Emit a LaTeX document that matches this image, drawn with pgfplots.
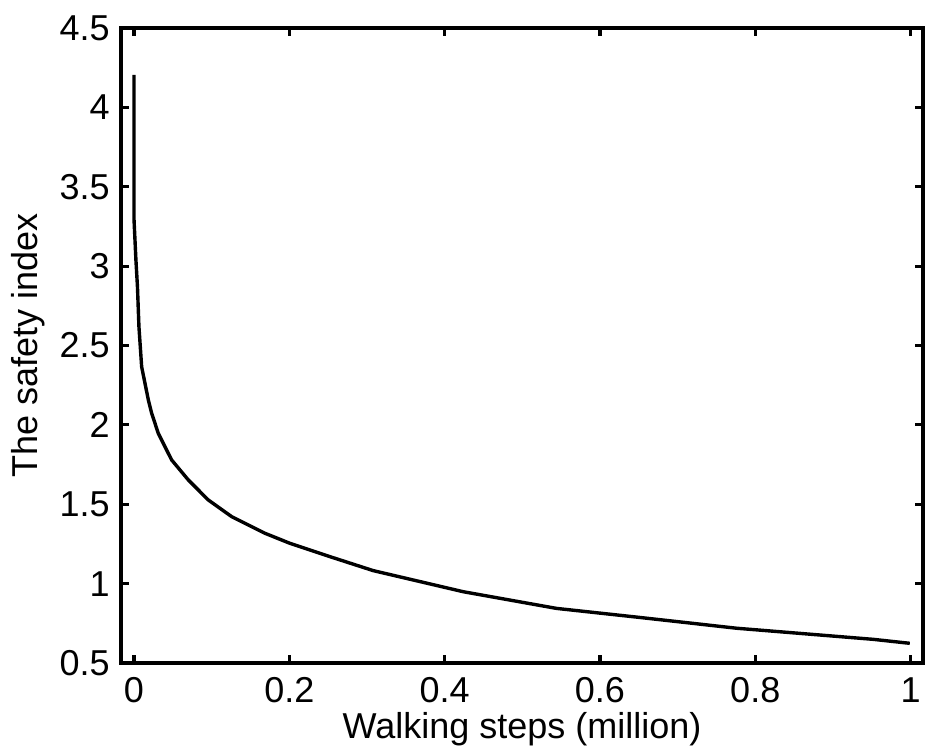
\documentclass[border=0pt]{standalone}
\usepackage{fontspec}
\setmainfont{Liberation Sans}
\usepackage{pgfplots}
\pgfplotsset{compat=1.18}
\begin{document}
\begin{tikzpicture}
\begin{axis}[
  name=ax,
  scale only axis,
  width=401pt, height=317.5pt,
  xmin=-0.0167, xmax=1.016,
  ymin=0.5, ymax=4.5,
  xtick={0,0.2,0.4,0.6,0.8,1},
  ytick={0.5,1,1.5,2,2.5,3,3.5,4,4.5},
  tick align=inside,
  major tick length=4pt,
  axis line style={line width=1.6pt},
  every tick/.style={black, line width=1.6pt},
  tick label style={font=\fontsize{18}{21}\selectfont, inner sep=0pt},
  label style={font=\fontsize{18}{21}\selectfont, inner sep=0pt},
  /pgf/number format/assume math mode=true,
  xlabel={Walking steps (million)},
  ylabel={The safety index},
  xticklabel style={anchor=base, yshift=-19.85pt},
  yticklabel style={anchor=east, xshift=-5.5pt},
  xlabel style={at={(axis description cs:0.5,0)}, anchor=base, yshift=-37.5pt},
  ylabel style={at={(axis description cs:-0.1047,0.5)}, anchor=base, rotate=0},
]
\addplot[black, line width=1.7pt, line join=round] table {
x y
0 4.204
0 3.30
0.0025 3.04
0.0045 2.87
0.0064 2.618
0.0099 2.366
0.0185 2.157
0.0228 2.073
0.0313 1.947
0.0485 1.779
0.0700 1.653
0.0957 1.527
0.1258 1.422
0.1687 1.317
0.2008 1.254
0.2523 1.170
0.3080 1.082
0.424 0.949
0.544 0.844
0.655 0.785
0.776 0.719
0.952 0.649
0.999 0.624
};
\end{axis}
\path (ax.south west)+(-60.5pt,-43pt) rectangle ([xshift=1pt,yshift=14pt]ax.north east);
\end{tikzpicture}
\end{document}
